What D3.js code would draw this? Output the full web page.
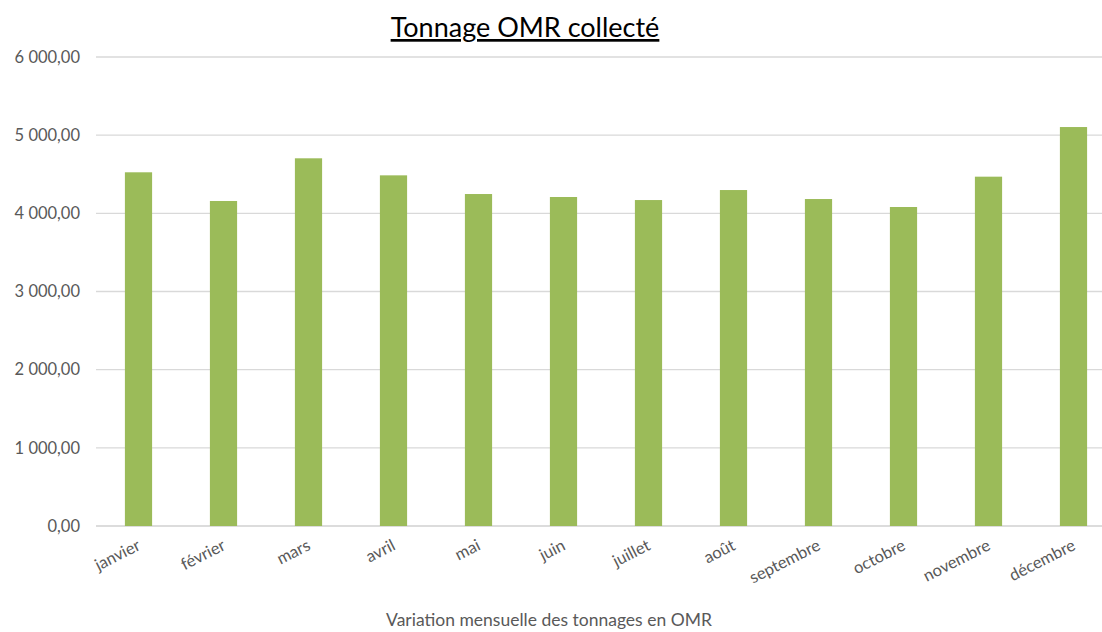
<!DOCTYPE html>
<html><head><meta charset="utf-8">
<script src="https://cdn.jsdelivr.net/npm/d3@7"></script>
<style>body{margin:0;background:#fff}svg{display:block}</style>
</head><body>
<svg id="chart" width="1102" height="632"></svg>
<script>
const months = ["janvier","février","mars","avril","mai","juin","juillet","août","septembre","octobre","novembre","décembre"];
const tonnages = [4525,4158,4704,4486,4247,4209,4170,4298,4183,4081,4469,5104];
const yTicks = [0,1000,2000,3000,4000,5000,6000];
const title = "Tonnage OMR collecté";
const xTitle = "Variation mensuelle des tonnages en OMR";

const svg = d3.select("#chart");
const font = "Lato, 'Open Sans', 'Liberation Sans', sans-serif";
const x = d3.scaleBand().domain(months).range([96,1116]).paddingInner(0.68).paddingOuter(0.34);
const y = d3.scaleLinear().domain([0,6000]).range([526,57]);
const fmt = v => d3.format(",.2f")(v).replace(/,/g," ").replace(".",",");

// gridlines
svg.append("g").selectAll("line").data(yTicks).join("line")
  .attr("x1",96).attr("x2",1102)
  .attr("y1",d=>y(d)).attr("y2",d=>y(d))
  .attr("stroke",d=>d===0?"#d0d0d0":"#d9d9d9").attr("stroke-width",1.3);

// y labels
svg.append("g").selectAll("text").data(yTicks).join("text")
  .attr("x",80).attr("y",d=>y(d)).attr("dy","0.35em")
  .attr("text-anchor","end").attr("font-family",font).attr("font-size",16.5)
  .attr("fill","#595959").text(d=>fmt(d));

// bars
svg.append("g").selectAll("rect").data(months).join("rect")
  .attr("x",d=>x(d)).attr("width",x.bandwidth())
  .attr("y",(d,i)=>y(tonnages[i])).attr("height",(d,i)=>y(0)-y(tonnages[i]))
  .attr("fill","#9BBB59");

// x labels
svg.append("g").selectAll("text").data(months).join("text")
  .attr("text-anchor","end").attr("font-family",font).attr("font-size",16.5)
  .attr("fill","#595959")
  .attr("transform",d=>`translate(${x(d)+x.bandwidth()/2+3},${549}) rotate(-27)`)
  .text(d=>d);

// title
svg.append("text").attr("x",525).attr("y",37).attr("text-anchor","middle")
  .attr("font-family",font).attr("font-size",27).attr("fill","#000")
  .attr("text-decoration","underline").text(title);

// x axis title
svg.append("text").attr("x",549).attr("y",626).attr("text-anchor","middle")
  .attr("font-family",font).attr("font-size",17.5).attr("fill","#595959").text(xTitle);
</script>
</body></html>
